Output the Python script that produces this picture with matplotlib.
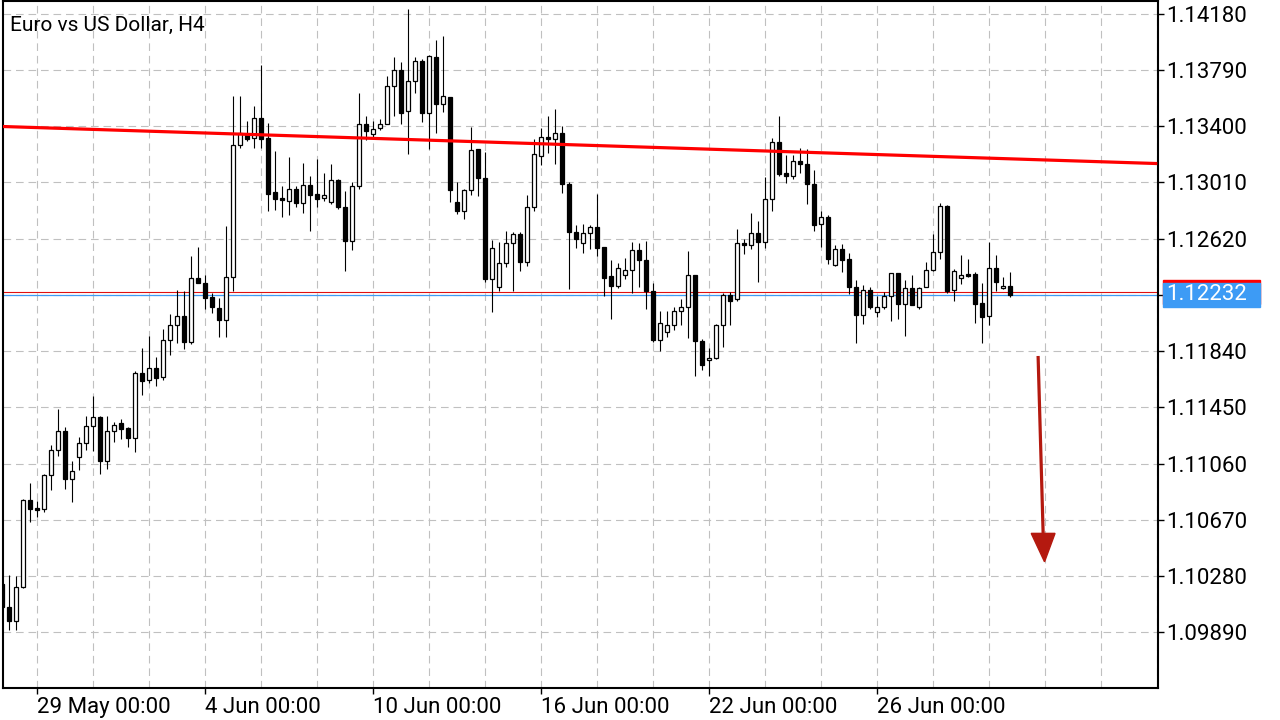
import matplotlib
matplotlib.use('Agg')
import matplotlib.pyplot as plt
from matplotlib.patches import Rectangle, Polygon
from matplotlib.transforms import blended_transform_factory

plt.rcParams['font.family'] = ['Roboto', 'DejaVu Sans']
plt.rcParams['lines.scale_dashes'] = False

# EURUSD H4, one value per bar
opens = [1.10225, 1.10063, 1.09971, 1.10202, 1.10807, 1.10752, 1.10747, 1.10978, 1.11152, 1.11283,
         1.10955, 1.11108, 1.11200, 1.11320, 1.11383, 1.11080, 1.11283, 1.11339, 1.11304, 1.11239,
         1.11685, 1.11637, 1.11720, 1.11662, 1.11914, 1.12018, 1.12085, 1.11900, 1.12349, 1.12309,
         1.12212, 1.12136, 1.12053, 1.12356, 1.13271, 1.13347, 1.13315, 1.13453, 1.13315, 1.12940,
         1.12901, 1.12882, 1.12961, 1.12869, 1.12989, 1.12926, 1.12899, 1.12871, 1.13023, 1.12841,
         1.12605, 1.12982, 1.13412, 1.13342, 1.13384, 1.13412, 1.13675, 1.13786, 1.13502, 1.13712,
         1.13849, 1.13493, 1.13876, 1.13550, 1.13599, 1.12873, 1.12813, 1.12956, 1.13238, 1.13037,
         1.12342, 1.12282, 1.12448, 1.12591, 1.12651, 1.12460, 1.12839, 1.13190, 1.13322, 1.13312,
         1.13352, 1.13000, 1.12668, 1.12587, 1.12656, 1.12700, 1.12561, 1.12360, 1.12293, 1.12365,
         1.12399, 1.12538, 1.12473, 1.12259, 1.11916, 1.11970, 1.12018, 1.12115, 1.12143, 1.12365,
         1.11907, 1.11776, 1.11789, 1.12018, 1.12226, 1.12198, 1.12591, 1.12573, 1.12656, 1.12598,
         1.12892, 1.13287, 1.13074, 1.13056, 1.13157, 1.13134, 1.13000, 1.12718, 1.12767, 1.12439,
         1.12545, 1.12478, 1.12282, 1.12092, 1.12261, 1.12108, 1.12143, 1.12224, 1.12379, 1.12168,
         1.12275, 1.12148, 1.12282, 1.12400, 1.12524, 1.12843, 1.12261, 1.12344, 1.12372, 1.12372,
         1.12171, 1.12081, 1.12413, 1.12275, 1.12289]
highs = [1.10253, 1.10287, 1.10280, 1.10812, 1.10927, 1.10800, 1.10988, 1.11189, 1.11440, 1.11311,
         1.11078, 1.11242, 1.11390, 1.11528, 1.11390, 1.11390, 1.11350, 1.11369, 1.11316, 1.11704,
         1.11861, 1.11944, 1.11796, 1.11993, 1.12097, 1.12263, 1.12254, 1.12499, 1.12559, 1.12365,
         1.12240, 1.12205, 1.12707, 1.13608, 1.13608, 1.13435, 1.13539, 1.13823, 1.13419, 1.13227,
         1.12984, 1.13185, 1.12984, 1.13144, 1.13053, 1.13171, 1.13074, 1.13137, 1.13030, 1.12950,
         1.13010, 1.13629, 1.13470, 1.13433, 1.13449, 1.13747, 1.13879, 1.13844, 1.14211, 1.13879,
         1.13867, 1.13892, 1.13996, 1.14024, 1.13604, 1.13012, 1.12966, 1.13396, 1.13243, 1.13220,
         1.12610, 1.12597, 1.12672, 1.12668, 1.12668, 1.12922, 1.13308, 1.13389, 1.13469, 1.13518,
         1.13400, 1.13012, 1.12714, 1.12721, 1.12716, 1.12929, 1.12561, 1.12471, 1.12450, 1.12487,
         1.12598, 1.12589, 1.12603, 1.12314, 1.12118, 1.12118, 1.12148, 1.12198, 1.12534, 1.12369,
         1.11921, 1.11861, 1.12027, 1.12240, 1.12249, 1.12684, 1.12614, 1.12797, 1.12744, 1.13044,
         1.13315, 1.13470, 1.13199, 1.13199, 1.13248, 1.13243, 1.13095, 1.12813, 1.12783, 1.12573,
         1.12580, 1.12517, 1.12333, 1.12296, 1.12286, 1.12222, 1.12247, 1.12379, 1.12379, 1.12330,
         1.12367, 1.12282, 1.12460, 1.12649, 1.12866, 1.12850, 1.12411, 1.12504, 1.12476, 1.12388,
         1.12309, 1.12598, 1.12504, 1.12351, 1.12388]
lows = [1.10022, 1.09906, 1.09906, 1.10200, 1.10657, 1.10687, 1.10726, 1.10877, 1.11115, 1.10886,
        1.10796, 1.11015, 1.11154, 1.11149, 1.10988, 1.11022, 1.11212, 1.11232, 1.11175, 1.11140,
        1.11535, 1.11621, 1.11598, 1.11639, 1.11815, 1.11898, 1.11854, 1.11889, 1.12309, 1.12129,
        1.12101, 1.11940, 1.11940, 1.12254, 1.13250, 1.13298, 1.13250, 1.13250, 1.12813, 1.12818,
        1.12772, 1.12785, 1.12841, 1.12799, 1.12674, 1.12841, 1.12880, 1.12857, 1.12827, 1.12397,
        1.12540, 1.12961, 1.13303, 1.13319, 1.13372, 1.13412, 1.13470, 1.13412, 1.13208, 1.13631,
        1.13428, 1.13243, 1.13354, 1.13500, 1.12876, 1.12792, 1.12758, 1.12924, 1.12917, 1.12321,
        1.12113, 1.12257, 1.12425, 1.12256, 1.12395, 1.12432, 1.12813, 1.13130, 1.13211, 1.13137,
        1.12938, 1.12270, 1.12557, 1.12522, 1.12545, 1.12501, 1.12224, 1.12062, 1.12277, 1.12339,
        1.12240, 1.12286, 1.12131, 1.11905, 1.11843, 1.11940, 1.11986, 1.12021, 1.11933, 1.11667,
        1.11709, 1.11667, 1.11782, 1.11870, 1.12018, 1.12189, 1.12515, 1.12545, 1.12321, 1.12557,
        1.12813, 1.13056, 1.13007, 1.13033, 1.13077, 1.12862, 1.12675, 1.12564, 1.12443, 1.12432,
        1.12390, 1.12235, 1.11893, 1.12025, 1.12134, 1.12074, 1.12129, 1.12046, 1.12060, 1.11942,
        1.12162, 1.12131, 1.12282, 1.12393, 1.12480, 1.12240, 1.12185, 1.12307, 1.12351, 1.12032,
        1.11898, 1.12023, 1.12256, 1.12268, 1.12212]
closes = [1.10063, 1.09971, 1.10202, 1.10807, 1.10743, 1.10740, 1.10978, 1.11152, 1.11283, 1.10955,
          1.11006, 1.11200, 1.11320, 1.11383, 1.11080, 1.11283, 1.11325, 1.11302, 1.11239, 1.11685,
          1.11635, 1.11720, 1.11651, 1.11914, 1.12018, 1.12085, 1.11900, 1.12349, 1.12309, 1.12205,
          1.12143, 1.12053, 1.12356, 1.13271, 1.13354, 1.13308, 1.13453, 1.13308, 1.12929, 1.12892,
          1.12889, 1.12961, 1.12869, 1.12989, 1.12924, 1.12896, 1.12919, 1.13023, 1.12841, 1.12605,
          1.12982, 1.13412, 1.13368, 1.13377, 1.13412, 1.13675, 1.13786, 1.13493, 1.13712, 1.13849,
          1.13493, 1.13883, 1.13550, 1.13606, 1.12959, 1.12813, 1.12956, 1.13231, 1.13037, 1.12342,
          1.12552, 1.12448, 1.12587, 1.12651, 1.12460, 1.12839, 1.13206, 1.13322, 1.13312, 1.13352,
          1.13000, 1.12668, 1.12614, 1.12656, 1.12700, 1.12557, 1.12349, 1.12293, 1.12413, 1.12399,
          1.12538, 1.12473, 1.12259, 1.11916, 1.12032, 1.12018, 1.12115, 1.12143, 1.12365, 1.11907,
          1.11746, 1.11789, 1.12018, 1.12226, 1.12189, 1.12591, 1.12573, 1.12656, 1.12598, 1.12892,
          1.13287, 1.13070, 1.13056, 1.13155, 1.13134, 1.13000, 1.12716, 1.12767, 1.12480, 1.12545,
          1.12469, 1.12282, 1.12092, 1.12261, 1.12148, 1.12143, 1.12219, 1.12379, 1.12168, 1.12275,
          1.12162, 1.12275, 1.12400, 1.12524, 1.12843, 1.12256, 1.12393, 1.12365, 1.12363, 1.12168,
          1.12074, 1.12413, 1.12316, 1.12289, 1.12232]

price_ticks = [1.09890, 1.10280, 1.10670, 1.11060, 1.11450, 1.11840,
               1.12230, 1.12620, 1.13010, 1.13400, 1.13790, 1.14180]
price_labels = ['1.09890', '1.10280', '1.10670', '1.11060', '1.11450', '1.11840',
                '', '1.12620', '1.13010', '1.13400', '1.13790', '1.14180']
date_bars = [5, 29, 53, 77, 101, 125]
date_labels = ['29 May 00:00', '4 Jun 00:00', '10 Jun 00:00', '16 Jun 00:00',
               '22 Jun 00:00', '26 Jun 00:00']
grid_bars = list(range(5, 166, 8))

bid = 1.12232
ask = 1.12252
trend_bars = [0, 165]
trend_prices = [1.13397, 1.13140]
arrow_start = (147.97, 1.11806)
arrow_end = (148.69, 1.10576)
arrow_tip = (148.89, 1.10379)

fig = plt.figure(figsize=(12.8, 7.2), dpi=100)
ax = fig.add_axes([3 / 1280, 32 / 720, 1155 / 1280, 687 / 720])

# grid
ax.set_yticks(price_ticks)
ax.set_yticklabels(price_labels)
ax.set_xticks(date_bars)
ax.set_xticklabels(date_labels)
ax.set_xticks(grid_bars, minor=True)
ax.grid(which='both', color='#C0C0C0', linestyle=(0, (5.5, 3.5)), linewidth=0.8, zorder=0)
ax.set_axisbelow(True)

# candles
xs = list(range(len(opens)))
ax.vlines(xs, lows, highs, color='black', linewidth=0.8, zorder=3)
bottoms = [min(o, c) for o, c in zip(opens, closes)]
heights = [max(abs(c - o), 0.00001) for o, c in zip(opens, closes)]
colors = ['white' if c >= o else 'black' for o, c in zip(opens, closes)]
ax.bar(xs, heights, bottom=bottoms, width=0.58, color=colors, edgecolor='black',
       linewidth=0.9, zorder=4)

# trend line, bid / ask lines
ax.plot(trend_bars, trend_prices, color='#FF0000', linewidth=2.3, zorder=5,
        solid_capstyle='butt')
ax.axhline(ask, color='#E01010', linewidth=0.8, zorder=2)
ax.axhline(bid, color='#3D9BF5', linewidth=0.9, zorder=2.1)

# arrow
arrow_col = '#B4190F'
ax.plot([arrow_start[0], arrow_end[0]], [arrow_start[1], arrow_end[1]],
        color=arrow_col, linewidth=2.3, zorder=6, solid_capstyle='butt')
ax.add_patch(Polygon([(arrow_end[0] - 1.7, arrow_end[1]), (arrow_end[0] + 1.7, arrow_end[1]),
                      arrow_tip], closed=True, color=arrow_col, zorder=6))

ax.set_xlim(0.096, 165.1)
ax.set_ylim(1.09504, 1.14267)

# axes look
for s in ax.spines.values():
    s.set_linewidth(1.5)
    s.set_color('black')
ax.yaxis.tick_right()
ax.tick_params(axis='y', which='major', length=4.3, width=1.0, pad=1.5, labelsize=16,
               colors='black')
ax.tick_params(axis='x', which='major', length=4.3, width=1.0, pad=2.0, labelsize=16,
               colors='black')
ax.tick_params(axis='x', which='minor', length=0)
for lbl in ax.get_xticklabels():
    lbl.set_horizontalalignment('left')

# current price labels on the right
tr = blended_transform_factory(ax.transAxes, ax.transData)
box_h = 0.001664
ax.add_patch(Rectangle((1.0043, ask - box_h / 2), 0.084, box_h, transform=tr,
                       color='#FF0000', clip_on=False, zorder=7))
ax.add_patch(Rectangle((1.0043, bid - box_h / 2), 0.084, box_h, transform=tr,
                       color='#3D9BF5', clip_on=False, zorder=8))
ax.text(1.0075, bid, '1.12232', transform=tr, color='white', fontsize=16,
        va='center', ha='left', zorder=9, clip_on=False)

ax.text(0.006, 1 - 24 / 687, 'Euro vs US Dollar, H4', transform=ax.transAxes,
        fontsize=15, va='center', ha='left', zorder=10)

fig.savefig('out.png', dpi=100)
